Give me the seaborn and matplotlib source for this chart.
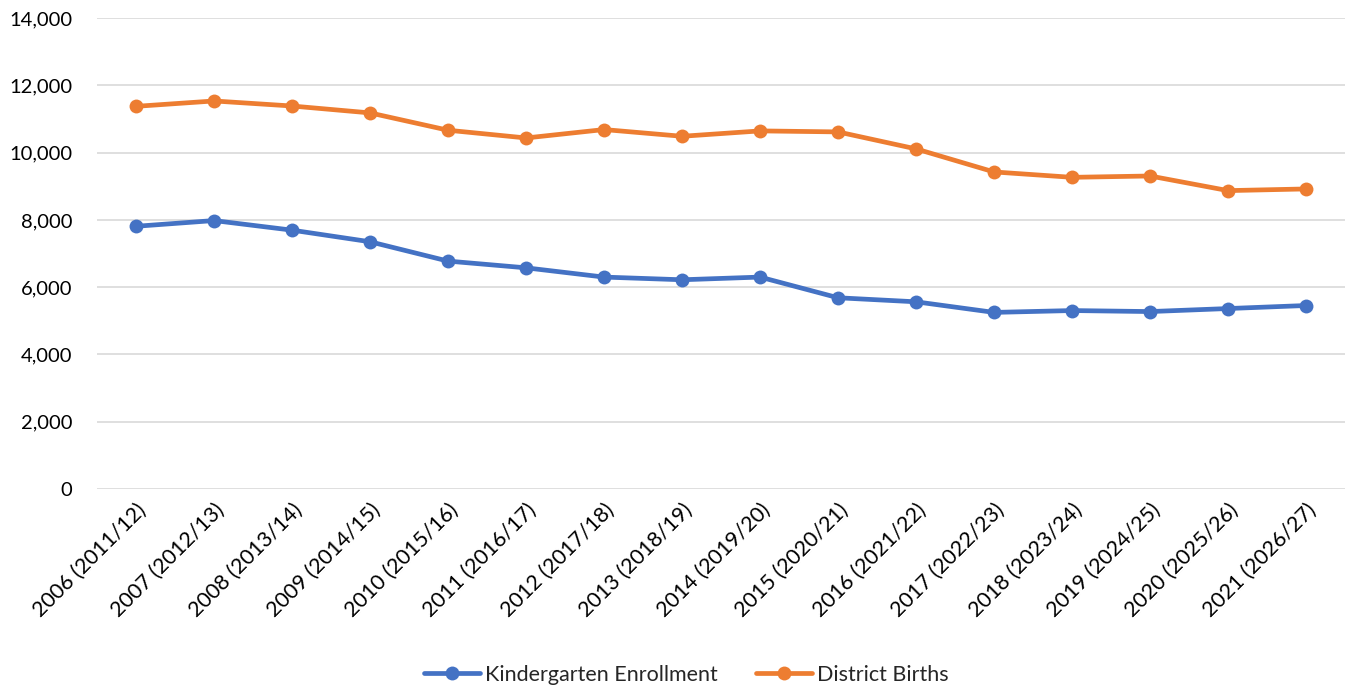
import matplotlib
matplotlib.use("Agg")
import matplotlib.pyplot as plt
import matplotlib.ticker as mticker
import pandas as pd
import seaborn as sns

years = [
    "2006 (2011/12)", "2007 (2012/13)", "2008 (2013/14)", "2009 (2014/15)",
    "2010 (2015/16)", "2011 (2016/17)", "2012 (2017/18)", "2013 (2018/19)",
    "2014 (2019/20)", "2015 (2020/21)", "2016 (2021/22)", "2017 (2022/23)",
    "2018 (2023/24)", "2019 (2024/25)", "2020 (2025/26)", "2021 (2026/27)",
]
kinder = [7810, 7980, 7695, 7350, 6775, 6575, 6300, 6220,
          6300, 5685, 5565, 5250, 5305, 5275, 5365, 5455]
births = [11375, 11535, 11385, 11180, 10665, 10435, 10685, 10485,
          10645, 10615, 10110, 9425, 9265, 9305, 8870, 8920]

df = pd.DataFrame({
    "year": years * 2,
    "value": kinder + births,
    "series": ["Kindergarten Enrollment"] * len(years) + ["District Births"] * len(years),
})

sns.set_style("white")
plt.rcParams["font.family"] = ["Lato", "DejaVu Sans"]

fig = plt.figure(figsize=(13.51, 6.88), dpi=100)
ax = fig.add_axes([0.0718, 0.2892, 0.9238, 0.6846])

sns.lineplot(
    data=df, x="year", y="value", hue="series", sort=False,
    palette={"Kindergarten Enrollment": "#4472C4", "District Births": "#ED7D31"},
    marker="o", markersize=10, markeredgewidth=0, linewidth=3.4, ax=ax,
)

ax.set_xlim(-0.5, len(years) - 0.5)
ax.set_ylim(0, 14000)
ax.set_yticks(range(0, 14001, 2000))
ax.yaxis.set_major_formatter(mticker.FuncFormatter(lambda v, p: f"{int(v):,}"))
ax.grid(axis="y", color="#d9d9d9", linewidth=1.2)
ax.grid(axis="x", visible=False)
ax.set_axisbelow(True)
sns.despine(ax=ax, left=True, bottom=True, top=True, right=True)
ax.tick_params(axis="y", length=0, labelsize=14.5, colors="#000000", pad=18)
ax.tick_params(axis="x", length=0, labelsize=15.5, colors="#000000", pad=8)
plt.setp(ax.get_xticklabels(), rotation=45, ha="right", rotation_mode="anchor")
ax.set_xlabel("")
ax.set_ylabel("")

handles, labels = ax.get_legend_handles_labels()
ax.get_legend().remove()
fig.legend(handles, labels, loc="center", bbox_to_anchor=(0.508, 0.019), ncol=2,
           frameon=False, fontsize=15.5, handlelength=2.6, columnspacing=1.8,
           handletextpad=0.2)

fig.savefig("out.png", dpi=100)
